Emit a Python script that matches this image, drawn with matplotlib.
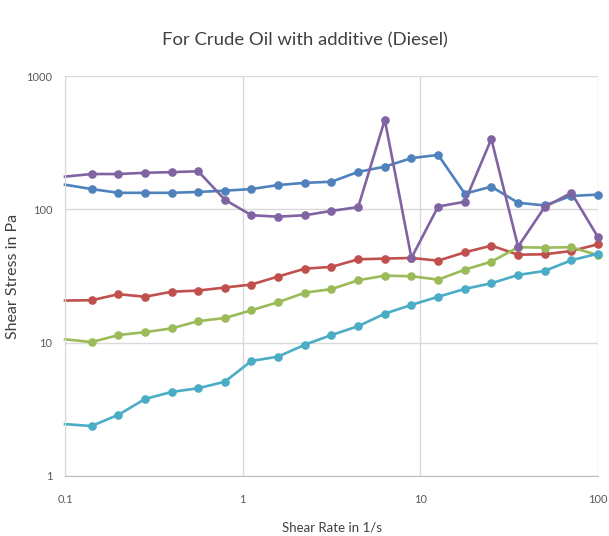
import matplotlib
matplotlib.use("Agg")
import matplotlib.pyplot as plt
from matplotlib.ticker import FixedLocator, FixedFormatter, NullLocator

plt.rcParams['font.family'] = ['Lato', 'DejaVu Sans']

# shear rate (1/s)
rate = [0.1, 0.141, 0.2, 0.282, 0.398, 0.562, 0.794, 1.12, 1.58, 2.24, 3.16,
        4.47, 6.31, 8.91, 12.6, 17.8, 25.1, 35.5, 50.1, 70.8, 100]

# shear stress (Pa) for each run
blue = [153, 142, 133, 133, 133, 135, 138, 142, 152, 158, 161,
        191, 209, 242, 256, 131, 148, 112, 107, 126, 129]
red = [20.7, 20.8, 23.1, 22.1, 24.1, 24.6, 25.9, 27.3, 31.3, 35.9, 37.0,
       42.2, 42.7, 43.2, 41.2, 47.6, 53.4, 45.7, 46.0, 48.7, 54.7]
green = [10.6, 10.1, 11.4, 12.0, 12.8, 14.5, 15.3, 17.5, 20.1, 23.7, 25.2,
         29.4, 31.8, 31.5, 29.7, 35.3, 40.5, 52.0, 51.6, 52.0, 45.3]
purple = [176, 184, 184, 188, 190, 193, 118, 90.3, 88.1, 90.3, 97.3,
          104, 469, 43.2, 105, 114, 337, 52.5, 104, 133, 61.8]
cyan = [2.45, 2.37, 2.88, 3.78, 4.27, 4.55, 5.10, 7.29, 7.85, 9.66, 11.4,
        13.3, 16.5, 19.2, 22.1, 25.3, 27.9, 32.2, 34.5, 41.5, 46.5]

series = [(blue, '#4F81BD'), (red, '#C0504D'), (green, '#9BBB59'),
          (purple, '#8064A2'), (cyan, '#4BACC6')]

fig = plt.figure(figsize=(6.09, 5.36), dpi=100)
ax = fig.add_axes([65/609, 1 - 476/536, (598-65)/609, (476-76)/536])

for vals, col in series:
    ax.plot(rate, vals, color=col, lw=1.9, marker='o', ms=5.2,
            markevery=list(range(1, len(rate))), clip_on=False)

ax.set_xscale('log')
ax.set_yscale('log')
ax.set_xlim(0.1, 100)
ax.set_ylim(1, 1000)

xt = [0.1, 1, 10, 100]
yt = [1, 10, 100, 1000]
ax.xaxis.set_major_locator(FixedLocator(xt))
ax.xaxis.set_major_formatter(FixedFormatter(['0.1', '1', '10', '100']))
ax.yaxis.set_major_locator(FixedLocator(yt))
ax.yaxis.set_major_formatter(FixedFormatter(['1', '10', '100', '1000']))
ax.xaxis.set_minor_locator(NullLocator())
ax.yaxis.set_minor_locator(NullLocator())

ax.grid(True, color='#D9D9D9', lw=1)
ax.set_axisbelow(True)
for s in ['top', 'right']:
    ax.spines[s].set_visible(False)
ax.spines['left'].set_color('#D9D9D9')
ax.spines['bottom'].set_color('#BFBFBF')
ax.tick_params(length=0, labelsize=8, colors='#595959')
ax.tick_params(axis='y', pad=9)
ax.tick_params(axis='x', pad=13)

fig.text(0.5, 1 - 40/536, 'For Crude Oil with additive (Diesel)', fontsize=13.3,
         color='#404040', ha='center', va='center')
ax.set_xlabel('Shear Rate in 1/s', fontsize=9.5, color='#404040', labelpad=12)
ax.set_ylabel('Shear Stress in Pa', fontsize=11.5, color='#404040', labelpad=5)

fig.savefig('out.png', dpi=100)
